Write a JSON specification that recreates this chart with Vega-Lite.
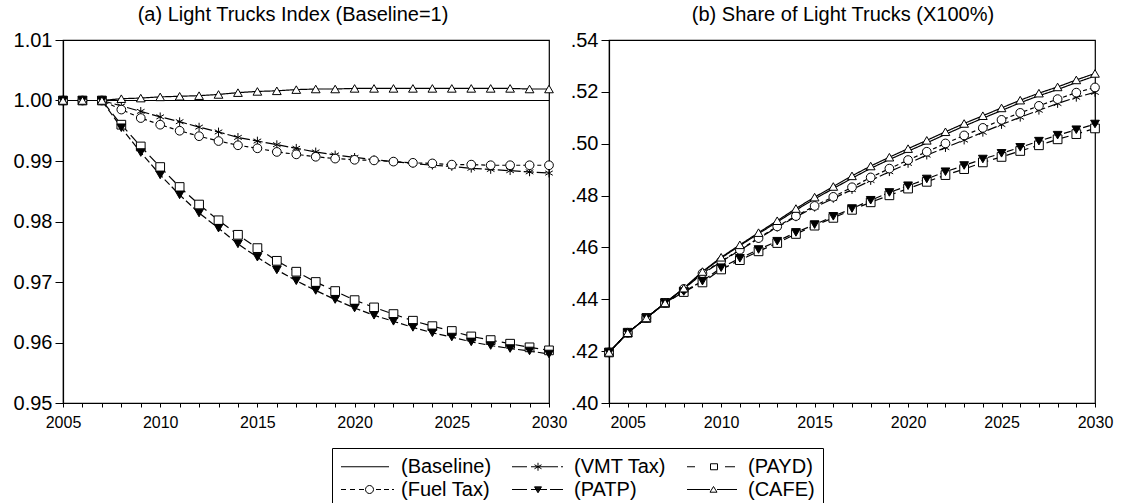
{
  "$schema": "https://vega.github.io/schema/vega-lite/v6.json",
  "background": "white",
  "padding": {"left": 12, "top": 4, "right": 0, "bottom": 0},
  "datasets": {
    "left": [
      {"year": 2005, "series": "Baseline", "value": 1}, {"year": 2005, "series": "VMT Tax", "value": 1}, {"year": 2005, "series": "PAYD", "value": 1}, {"year": 2005, "series": "Fuel Tax", "value": 1}, {"year": 2005, "series": "PATP", "value": 1}, {"year": 2005, "series": "CAFE", "value": 1},
      {"year": 2006, "series": "Baseline", "value": 1}, {"year": 2006, "series": "VMT Tax", "value": 1}, {"year": 2006, "series": "PAYD", "value": 1}, {"year": 2006, "series": "Fuel Tax", "value": 1}, {"year": 2006, "series": "PATP", "value": 1}, {"year": 2006, "series": "CAFE", "value": 1},
      {"year": 2007, "series": "Baseline", "value": 1}, {"year": 2007, "series": "VMT Tax", "value": 1}, {"year": 2007, "series": "PAYD", "value": 1}, {"year": 2007, "series": "Fuel Tax", "value": 1}, {"year": 2007, "series": "PATP", "value": 1}, {"year": 2007, "series": "CAFE", "value": 1},
      {"year": 2008, "series": "Baseline", "value": 1}, {"year": 2008, "series": "VMT Tax", "value": 0.9991}, {"year": 2008, "series": "PAYD", "value": 0.9960}, {"year": 2008, "series": "Fuel Tax", "value": 0.9985}, {"year": 2008, "series": "PATP", "value": 0.9955}, {"year": 2008, "series": "CAFE", "value": 1.0003},
      {"year": 2009, "series": "Baseline", "value": 1}, {"year": 2009, "series": "VMT Tax", "value": 0.9982}, {"year": 2009, "series": "PAYD", "value": 0.9924}, {"year": 2009, "series": "Fuel Tax", "value": 0.9971}, {"year": 2009, "series": "PATP", "value": 0.9914}, {"year": 2009, "series": "CAFE", "value": 1.0004},
      {"year": 2010, "series": "Baseline", "value": 1}, {"year": 2010, "series": "VMT Tax", "value": 0.9973}, {"year": 2010, "series": "PAYD", "value": 0.9890}, {"year": 2010, "series": "Fuel Tax", "value": 0.9960}, {"year": 2010, "series": "PATP", "value": 0.9877}, {"year": 2010, "series": "CAFE", "value": 1.0006},
      {"year": 2011, "series": "Baseline", "value": 1}, {"year": 2011, "series": "VMT Tax", "value": 0.9965}, {"year": 2011, "series": "PAYD", "value": 0.9857}, {"year": 2011, "series": "Fuel Tax", "value": 0.9950}, {"year": 2011, "series": "PATP", "value": 0.9844}, {"year": 2011, "series": "CAFE", "value": 1.0007},
      {"year": 2012, "series": "Baseline", "value": 1}, {"year": 2012, "series": "VMT Tax", "value": 0.9956}, {"year": 2012, "series": "PAYD", "value": 0.9828}, {"year": 2012, "series": "Fuel Tax", "value": 0.9941}, {"year": 2012, "series": "PATP", "value": 0.9814}, {"year": 2012, "series": "CAFE", "value": 1.0008},
      {"year": 2013, "series": "Baseline", "value": 1}, {"year": 2013, "series": "VMT Tax", "value": 0.9948}, {"year": 2013, "series": "PAYD", "value": 0.9802}, {"year": 2013, "series": "Fuel Tax", "value": 0.9933}, {"year": 2013, "series": "PATP", "value": 0.9789}, {"year": 2013, "series": "CAFE", "value": 1.0010},
      {"year": 2014, "series": "Baseline", "value": 1}, {"year": 2014, "series": "VMT Tax", "value": 0.9939}, {"year": 2014, "series": "PAYD", "value": 0.9778}, {"year": 2014, "series": "Fuel Tax", "value": 0.9926}, {"year": 2014, "series": "PATP", "value": 0.9763}, {"year": 2014, "series": "CAFE", "value": 1.0013},
      {"year": 2015, "series": "Baseline", "value": 1}, {"year": 2015, "series": "VMT Tax", "value": 0.9933}, {"year": 2015, "series": "PAYD", "value": 0.9756}, {"year": 2015, "series": "Fuel Tax", "value": 0.9921}, {"year": 2015, "series": "PATP", "value": 0.9741}, {"year": 2015, "series": "CAFE", "value": 1.0015},
      {"year": 2016, "series": "Baseline", "value": 1}, {"year": 2016, "series": "VMT Tax", "value": 0.9927}, {"year": 2016, "series": "PAYD", "value": 0.9735}, {"year": 2016, "series": "Fuel Tax", "value": 0.9915}, {"year": 2016, "series": "PATP", "value": 0.9720}, {"year": 2016, "series": "CAFE", "value": 1.0016},
      {"year": 2017, "series": "Baseline", "value": 1}, {"year": 2017, "series": "VMT Tax", "value": 0.9921}, {"year": 2017, "series": "PAYD", "value": 0.9717}, {"year": 2017, "series": "Fuel Tax", "value": 0.9911}, {"year": 2017, "series": "PATP", "value": 0.9702}, {"year": 2017, "series": "CAFE", "value": 1.0018},
      {"year": 2018, "series": "Baseline", "value": 1}, {"year": 2018, "series": "VMT Tax", "value": 0.9915}, {"year": 2018, "series": "PAYD", "value": 0.9700}, {"year": 2018, "series": "Fuel Tax", "value": 0.9907}, {"year": 2018, "series": "PATP", "value": 0.9686}, {"year": 2018, "series": "CAFE", "value": 1.0019},
      {"year": 2019, "series": "Baseline", "value": 1}, {"year": 2019, "series": "VMT Tax", "value": 0.9910}, {"year": 2019, "series": "PAYD", "value": 0.9685}, {"year": 2019, "series": "Fuel Tax", "value": 0.9904}, {"year": 2019, "series": "PATP", "value": 0.9671}, {"year": 2019, "series": "CAFE", "value": 1.0019},
      {"year": 2020, "series": "Baseline", "value": 1}, {"year": 2020, "series": "VMT Tax", "value": 0.9906}, {"year": 2020, "series": "PAYD", "value": 0.9670}, {"year": 2020, "series": "Fuel Tax", "value": 0.9902}, {"year": 2020, "series": "PATP", "value": 0.9657}, {"year": 2020, "series": "CAFE", "value": 1.0020},
      {"year": 2021, "series": "Baseline", "value": 1}, {"year": 2021, "series": "VMT Tax", "value": 0.9902}, {"year": 2021, "series": "PAYD", "value": 0.9658}, {"year": 2021, "series": "Fuel Tax", "value": 0.9901}, {"year": 2021, "series": "PATP", "value": 0.9645}, {"year": 2021, "series": "CAFE", "value": 1.0020},
      {"year": 2022, "series": "Baseline", "value": 1}, {"year": 2022, "series": "VMT Tax", "value": 0.9899}, {"year": 2022, "series": "PAYD", "value": 0.9647}, {"year": 2022, "series": "Fuel Tax", "value": 0.9899}, {"year": 2022, "series": "PATP", "value": 0.9635}, {"year": 2022, "series": "CAFE", "value": 1.0020},
      {"year": 2023, "series": "Baseline", "value": 1}, {"year": 2023, "series": "VMT Tax", "value": 0.9896}, {"year": 2023, "series": "PAYD", "value": 0.9636}, {"year": 2023, "series": "Fuel Tax", "value": 0.9897}, {"year": 2023, "series": "PATP", "value": 0.9625}, {"year": 2023, "series": "CAFE", "value": 1.0020},
      {"year": 2024, "series": "Baseline", "value": 1}, {"year": 2024, "series": "VMT Tax", "value": 0.9893}, {"year": 2024, "series": "PAYD", "value": 0.9627}, {"year": 2024, "series": "Fuel Tax", "value": 0.9896}, {"year": 2024, "series": "PATP", "value": 0.9616}, {"year": 2024, "series": "CAFE", "value": 1.0020},
      {"year": 2025, "series": "Baseline", "value": 1}, {"year": 2025, "series": "VMT Tax", "value": 0.9891}, {"year": 2025, "series": "PAYD", "value": 0.9619}, {"year": 2025, "series": "Fuel Tax", "value": 0.9894}, {"year": 2025, "series": "PATP", "value": 0.9609}, {"year": 2025, "series": "CAFE", "value": 1.0020},
      {"year": 2026, "series": "Baseline", "value": 1}, {"year": 2026, "series": "VMT Tax", "value": 0.9888}, {"year": 2026, "series": "PAYD", "value": 0.9610}, {"year": 2026, "series": "Fuel Tax", "value": 0.9894}, {"year": 2026, "series": "PATP", "value": 0.9601}, {"year": 2026, "series": "CAFE", "value": 1.0020},
      {"year": 2027, "series": "Baseline", "value": 1}, {"year": 2027, "series": "VMT Tax", "value": 0.9886}, {"year": 2027, "series": "PAYD", "value": 0.9604}, {"year": 2027, "series": "Fuel Tax", "value": 0.9893}, {"year": 2027, "series": "PATP", "value": 0.9595}, {"year": 2027, "series": "CAFE", "value": 1.0020},
      {"year": 2028, "series": "Baseline", "value": 1}, {"year": 2028, "series": "VMT Tax", "value": 0.9884}, {"year": 2028, "series": "PAYD", "value": 0.9598}, {"year": 2028, "series": "Fuel Tax", "value": 0.9893}, {"year": 2028, "series": "PATP", "value": 0.9590}, {"year": 2028, "series": "CAFE", "value": 1.0020},
      {"year": 2029, "series": "Baseline", "value": 1}, {"year": 2029, "series": "VMT Tax", "value": 0.9882}, {"year": 2029, "series": "PAYD", "value": 0.9592}, {"year": 2029, "series": "Fuel Tax", "value": 0.9893}, {"year": 2029, "series": "PATP", "value": 0.9586}, {"year": 2029, "series": "CAFE", "value": 1.0019},
      {"year": 2030, "series": "Baseline", "value": 1}, {"year": 2030, "series": "VMT Tax", "value": 0.9880}, {"year": 2030, "series": "PAYD", "value": 0.9587}, {"year": 2030, "series": "Fuel Tax", "value": 0.9893}, {"year": 2030, "series": "PATP", "value": 0.9581}, {"year": 2030, "series": "CAFE", "value": 1.0019}
    ],
    "right": [
      {"year": 2004, "series": "Baseline", "value": 0.4195}, {"year": 2004, "series": "VMT Tax", "value": 0.4195}, {"year": 2004, "series": "PAYD", "value": 0.4195}, {"year": 2004, "series": "Fuel Tax", "value": 0.4195}, {"year": 2004, "series": "PATP", "value": 0.4195}, {"year": 2004, "series": "CAFE", "value": 0.4195},
      {"year": 2005, "series": "Baseline", "value": 0.4271}, {"year": 2005, "series": "VMT Tax", "value": 0.4271}, {"year": 2005, "series": "PAYD", "value": 0.4271}, {"year": 2005, "series": "Fuel Tax", "value": 0.4271}, {"year": 2005, "series": "PATP", "value": 0.4271}, {"year": 2005, "series": "CAFE", "value": 0.4271},
      {"year": 2006, "series": "Baseline", "value": 0.4328}, {"year": 2006, "series": "VMT Tax", "value": 0.4328}, {"year": 2006, "series": "PAYD", "value": 0.4328}, {"year": 2006, "series": "Fuel Tax", "value": 0.4328}, {"year": 2006, "series": "PATP", "value": 0.4328}, {"year": 2006, "series": "CAFE", "value": 0.4328},
      {"year": 2007, "series": "Baseline", "value": 0.4386}, {"year": 2007, "series": "VMT Tax", "value": 0.4386}, {"year": 2007, "series": "PAYD", "value": 0.4386}, {"year": 2007, "series": "Fuel Tax", "value": 0.4386}, {"year": 2007, "series": "PATP", "value": 0.4386}, {"year": 2007, "series": "CAFE", "value": 0.4386},
      {"year": 2008, "series": "Baseline", "value": 0.4441}, {"year": 2008, "series": "VMT Tax", "value": 0.4440}, {"year": 2008, "series": "PAYD", "value": 0.4428}, {"year": 2008, "series": "Fuel Tax", "value": 0.4440}, {"year": 2008, "series": "PATP", "value": 0.4430}, {"year": 2008, "series": "CAFE", "value": 0.4443},
      {"year": 2009, "series": "Baseline", "value": 0.4505}, {"year": 2009, "series": "VMT Tax", "value": 0.4498}, {"year": 2009, "series": "PAYD", "value": 0.4465}, {"year": 2009, "series": "Fuel Tax", "value": 0.4500}, {"year": 2009, "series": "PATP", "value": 0.4470}, {"year": 2009, "series": "CAFE", "value": 0.4507},
      {"year": 2010, "series": "Baseline", "value": 0.4559}, {"year": 2010, "series": "VMT Tax", "value": 0.4545}, {"year": 2010, "series": "PAYD", "value": 0.4515}, {"year": 2010, "series": "Fuel Tax", "value": 0.4547}, {"year": 2010, "series": "PATP", "value": 0.4522}, {"year": 2010, "series": "CAFE", "value": 0.4562},
      {"year": 2011, "series": "Baseline", "value": 0.4607}, {"year": 2011, "series": "VMT Tax", "value": 0.4589}, {"year": 2011, "series": "PAYD", "value": 0.4551}, {"year": 2011, "series": "Fuel Tax", "value": 0.4591}, {"year": 2011, "series": "PATP", "value": 0.4558}, {"year": 2011, "series": "CAFE", "value": 0.4610},
      {"year": 2012, "series": "Baseline", "value": 0.4653}, {"year": 2012, "series": "VMT Tax", "value": 0.4634}, {"year": 2012, "series": "PAYD", "value": 0.4585}, {"year": 2012, "series": "Fuel Tax", "value": 0.4636}, {"year": 2012, "series": "PATP", "value": 0.4592}, {"year": 2012, "series": "CAFE", "value": 0.4657},
      {"year": 2013, "series": "Baseline", "value": 0.4698}, {"year": 2013, "series": "VMT Tax", "value": 0.4678}, {"year": 2013, "series": "PAYD", "value": 0.4617}, {"year": 2013, "series": "Fuel Tax", "value": 0.4681}, {"year": 2013, "series": "PATP", "value": 0.4624}, {"year": 2013, "series": "CAFE", "value": 0.4703},
      {"year": 2014, "series": "Baseline", "value": 0.4744}, {"year": 2014, "series": "VMT Tax", "value": 0.4718}, {"year": 2014, "series": "PAYD", "value": 0.4652}, {"year": 2014, "series": "Fuel Tax", "value": 0.4721}, {"year": 2014, "series": "PATP", "value": 0.4658}, {"year": 2014, "series": "CAFE", "value": 0.4750},
      {"year": 2015, "series": "Baseline", "value": 0.4787}, {"year": 2015, "series": "VMT Tax", "value": 0.4755}, {"year": 2015, "series": "PAYD", "value": 0.4684}, {"year": 2015, "series": "Fuel Tax", "value": 0.4760}, {"year": 2015, "series": "PATP", "value": 0.4688}, {"year": 2015, "series": "CAFE", "value": 0.4794},
      {"year": 2016, "series": "Baseline", "value": 0.4827}, {"year": 2016, "series": "VMT Tax", "value": 0.4789}, {"year": 2016, "series": "PAYD", "value": 0.4714}, {"year": 2016, "series": "Fuel Tax", "value": 0.4795}, {"year": 2016, "series": "PATP", "value": 0.4720}, {"year": 2016, "series": "CAFE", "value": 0.4835},
      {"year": 2017, "series": "Baseline", "value": 0.4867}, {"year": 2017, "series": "VMT Tax", "value": 0.4823}, {"year": 2017, "series": "PAYD", "value": 0.4745}, {"year": 2017, "series": "Fuel Tax", "value": 0.4832}, {"year": 2017, "series": "PATP", "value": 0.4750}, {"year": 2017, "series": "CAFE", "value": 0.4876},
      {"year": 2018, "series": "Baseline", "value": 0.4905}, {"year": 2018, "series": "VMT Tax", "value": 0.4858}, {"year": 2018, "series": "PAYD", "value": 0.4774}, {"year": 2018, "series": "Fuel Tax", "value": 0.4870}, {"year": 2018, "series": "PATP", "value": 0.4782}, {"year": 2018, "series": "CAFE", "value": 0.4914},
      {"year": 2019, "series": "Baseline", "value": 0.4939}, {"year": 2019, "series": "VMT Tax", "value": 0.4892}, {"year": 2019, "series": "PAYD", "value": 0.4801}, {"year": 2019, "series": "Fuel Tax", "value": 0.4904}, {"year": 2019, "series": "PATP", "value": 0.4812}, {"year": 2019, "series": "CAFE", "value": 0.4948},
      {"year": 2020, "series": "Baseline", "value": 0.4971}, {"year": 2020, "series": "VMT Tax", "value": 0.4924}, {"year": 2020, "series": "PAYD", "value": 0.4827}, {"year": 2020, "series": "Fuel Tax", "value": 0.4937}, {"year": 2020, "series": "PATP", "value": 0.4838}, {"year": 2020, "series": "CAFE", "value": 0.4981},
      {"year": 2021, "series": "Baseline", "value": 0.5003}, {"year": 2021, "series": "VMT Tax", "value": 0.4956}, {"year": 2021, "series": "PAYD", "value": 0.4853}, {"year": 2021, "series": "Fuel Tax", "value": 0.4969}, {"year": 2021, "series": "PATP", "value": 0.4864}, {"year": 2021, "series": "CAFE", "value": 0.5013},
      {"year": 2022, "series": "Baseline", "value": 0.5036}, {"year": 2022, "series": "VMT Tax", "value": 0.4985}, {"year": 2022, "series": "PAYD", "value": 0.4879}, {"year": 2022, "series": "Fuel Tax", "value": 0.5001}, {"year": 2022, "series": "PATP", "value": 0.4892}, {"year": 2022, "series": "CAFE", "value": 0.5046},
      {"year": 2023, "series": "Baseline", "value": 0.5068}, {"year": 2023, "series": "VMT Tax", "value": 0.5014}, {"year": 2023, "series": "PAYD", "value": 0.4902}, {"year": 2023, "series": "Fuel Tax", "value": 0.5032}, {"year": 2023, "series": "PATP", "value": 0.4916}, {"year": 2023, "series": "CAFE", "value": 0.5078},
      {"year": 2024, "series": "Baseline", "value": 0.5098}, {"year": 2024, "series": "VMT Tax", "value": 0.5044}, {"year": 2024, "series": "PAYD", "value": 0.4928}, {"year": 2024, "series": "Fuel Tax", "value": 0.5061}, {"year": 2024, "series": "PATP", "value": 0.4941}, {"year": 2024, "series": "CAFE", "value": 0.5108},
      {"year": 2025, "series": "Baseline", "value": 0.5128}, {"year": 2025, "series": "VMT Tax", "value": 0.5074}, {"year": 2025, "series": "PAYD", "value": 0.4949}, {"year": 2025, "series": "Fuel Tax", "value": 0.5092}, {"year": 2025, "series": "PATP", "value": 0.4963}, {"year": 2025, "series": "CAFE", "value": 0.5138},
      {"year": 2026, "series": "Baseline", "value": 0.5158}, {"year": 2026, "series": "VMT Tax", "value": 0.5102}, {"year": 2026, "series": "PAYD", "value": 0.4972}, {"year": 2026, "series": "Fuel Tax", "value": 0.5119}, {"year": 2026, "series": "PATP", "value": 0.4986}, {"year": 2026, "series": "CAFE", "value": 0.5168},
      {"year": 2027, "series": "Baseline", "value": 0.5185}, {"year": 2027, "series": "VMT Tax", "value": 0.5129}, {"year": 2027, "series": "PAYD", "value": 0.4994}, {"year": 2027, "series": "Fuel Tax", "value": 0.5146}, {"year": 2027, "series": "PATP", "value": 0.5010}, {"year": 2027, "series": "CAFE", "value": 0.5195},
      {"year": 2028, "series": "Baseline", "value": 0.5209}, {"year": 2028, "series": "VMT Tax", "value": 0.5155}, {"year": 2028, "series": "PAYD", "value": 0.5017}, {"year": 2028, "series": "Fuel Tax", "value": 0.5172}, {"year": 2028, "series": "PATP", "value": 0.5033}, {"year": 2028, "series": "CAFE", "value": 0.5219},
      {"year": 2029, "series": "Baseline", "value": 0.5236}, {"year": 2029, "series": "VMT Tax", "value": 0.5179}, {"year": 2029, "series": "PAYD", "value": 0.5037}, {"year": 2029, "series": "Fuel Tax", "value": 0.5197}, {"year": 2029, "series": "PATP", "value": 0.5054}, {"year": 2029, "series": "CAFE", "value": 0.5246},
      {"year": 2030, "series": "Baseline", "value": 0.5261}, {"year": 2030, "series": "VMT Tax", "value": 0.5198}, {"year": 2030, "series": "PAYD", "value": 0.5059}, {"year": 2030, "series": "Fuel Tax", "value": 0.5217}, {"year": 2030, "series": "PATP", "value": 0.5076}, {"year": 2030, "series": "CAFE", "value": 0.5271}
    ]
  },
  "spacing": 60,
  "bounds": "flush",
  "resolve": {"scale": {"shape": "independent", "fill": "independent", "strokeDash": "independent"}, "legend": {"shape": "independent"}},
  "hconcat": [
    {
      "width": 486,
      "height": 363,
      "title": {"text": "(a) Light Trucks Index (Baseline=1)", "anchor": "middle", "frame": "group", "dx": -13, "offset": 5},
      "data": {"name": "left"},
      "encoding": {
        "x": {"field": "year", "type": "quantitative", "scale": {"domain": [2005, 2030], "nice": false, "zero": false},
          "axis": {"title": null, "values": [2005, 2006, 2007, 2008, 2009, 2010, 2011, 2012, 2013, 2014, 2015, 2016, 2017, 2018, 2019, 2020, 2021, 2022, 2023, 2024, 2025, 2026, 2027, 2028, 2029, 2030], "format": "d", "labelExpr": "datum.value % 5 === 0 ? datum.label : ''", "labelFlush": false, "labelOverlap": false, "tickSize": 4, "labelPadding": 7, "labelFontSize": 16, "grid": false}},
        "y": {"field": "value", "type": "quantitative", "scale": {"domain": [0.95, 1.01], "nice": false, "zero": false},
          "axis": {"title": null, "values": [0.95, 0.96, 0.97, 0.98, 0.99, 1.0, 1.01], "format": ".2f", "labelOverlap": false, "tickSize": 8, "labelPadding": 3, "labelFontSize": 20, "grid": false}}
      },
      "layer": [
        {
          "mark": {"type": "line", "color": "black", "strokeWidth": 1.2},
          "encoding": {
            "strokeDash": {"field": "series", "type": "nominal", "legend": null,
              "scale": {"domain": ["Baseline", "VMT Tax", "PAYD", "Fuel Tax", "PATP", "CAFE"], "range": [[1, 0], [10, 3], [9, 5], [4, 3], [7, 3], [1, 0]]}}
          }
        },
        {
          "transform": [{"filter": "datum.series !== 'Baseline'"}],
          "mark": {"type": "point", "filled": true, "stroke": "black", "strokeWidth": 1, "size": 76, "opacity": 1},
          "encoding": {
            "shape": {"field": "series", "type": "nominal", "legend": null,
              "scale": {"domain": ["VMT Tax", "PAYD", "Fuel Tax", "PATP", "CAFE"], "range": ["M0,-1V1M-0.87,-0.5L0.87,0.5M-0.87,0.5L0.87,-0.5", "square", "circle", "triangle-down", "triangle-up"]}},
            "fill": {"field": "series", "type": "nominal", "legend": null,
              "scale": {"domain": ["VMT Tax", "PAYD", "Fuel Tax", "PATP", "CAFE"], "range": ["white", "white", "white", "black", "white"]}}
          }
        },
        {
          "mark": {"type": "point", "filled": false, "color": "black", "strokeWidth": 1, "opacity": 0},
          "encoding": {
            "shape": {"field": "series", "type": "nominal",
              "scale": {"domain": ["Baseline", "VMT Tax", "PAYD", "Fuel Tax", "PATP", "CAFE"],
                "range": [
                  "M-0.95,0H3.85",
                  "M-1.15,0H0.35M0.75,0H3.45M3.75,0H3.95M1.45,-0.4V0.4M1.1,-0.2L1.8,0.2M1.1,0.2L1.8,-0.2",
                  "M-1.05,0H-0.25M2.75,0H3.75M1.3,-0.3H2V0.3H1.3Z",
                  "M-0.95,0H-0.45M-0.05,0H0.45M0.85,0H1.35M2.55,0H3.05M3.35,0H3.85M4.15,0H4.35M1.5,0A0.4,0.4 0 1,1 2.3,0A0.4,0.4 0 1,1 1.5,0Z",
                  "M-1.15,0H0.35M0.75,0H2.35M2.65,0H3.95M1.1,-0.27L1.8,-0.27L1.45,0.33ZM1.147,-0.19H1.753M1.193,-0.11H1.707M1.24,-0.03H1.66M1.287,0.05H1.613M1.333,0.13H1.567M1.38,0.21H1.52",
                  "M-1.05,0H1.25M1.95,0H3.95M1.25,0.27L1.95,0.27L1.6,-0.3Z"
                ]},
              "legend": {
                "title": null,
                "orient": "none", "legendX": 269, "legendY": 408,
                "columns": 3, "direction": "horizontal",
                "strokeColor": "black", "padding": 8,
                "labelFontSize": 20, "labelColor": "black", "labelLimit": 300,
                "labelExpr": "'(' + datum.label + ')'",
                "symbolSize": 400, "symbolStrokeWidth": 1, "symbolStrokeColor": "black", "symbolOpacity": 1,
                "labelOffset": 40, "columnPadding": 18, "rowPadding": 2, "symbolOffset": 0
              }
            }
          }
        }
      ],
      "resolve": {"scale": {"shape": "independent", "fill": "independent"}}
    },
    {
      "width": 486,
      "height": 363,
      "title": {"text": "(b) Share of Light Trucks (X100%)", "anchor": "middle", "frame": "group", "dx": -9, "offset": 5},
      "data": {"name": "right"},
      "encoding": {
        "x": {"field": "year", "type": "quantitative", "scale": {"domain": [2004, 2030], "nice": false, "zero": false},
          "axis": {"title": null, "values": [2004, 2005, 2006, 2007, 2008, 2009, 2010, 2011, 2012, 2013, 2014, 2015, 2016, 2017, 2018, 2019, 2020, 2021, 2022, 2023, 2024, 2025, 2026, 2027, 2028, 2029, 2030], "format": "d", "labelExpr": "datum.value % 5 === 0 ? datum.label : ''", "labelFlush": false, "labelOverlap": false, "tickSize": 4, "labelPadding": 7, "labelFontSize": 16, "grid": false}},
        "y": {"field": "value", "type": "quantitative", "scale": {"domain": [0.40, 0.54], "nice": false, "zero": false},
          "axis": {"title": null, "values": [0.40, 0.42, 0.44, 0.46, 0.48, 0.50, 0.52, 0.54], "labelExpr": "substring(format(datum.value, '.2f'), 1)", "labelOverlap": false, "tickSize": 8, "labelPadding": 3, "labelFontSize": 20, "grid": false}}
      },
      "layer": [
        {
          "mark": {"type": "line", "color": "black", "strokeWidth": 1.2},
          "encoding": {
            "strokeDash": {"field": "series", "type": "nominal", "legend": null,
              "scale": {"domain": ["Baseline", "VMT Tax", "PAYD", "Fuel Tax", "PATP", "CAFE"], "range": [[1, 0], [10, 3], [9, 5], [4, 3], [7, 3], [1, 0]]}}
          }
        },
        {
          "transform": [{"filter": "datum.series !== 'Baseline'"}],
          "mark": {"type": "point", "filled": true, "stroke": "black", "strokeWidth": 1, "size": 76, "opacity": 1},
          "encoding": {
            "shape": {"field": "series", "type": "nominal", "legend": null,
              "scale": {"domain": ["VMT Tax", "PAYD", "Fuel Tax", "PATP", "CAFE"], "range": ["M0,-1V1M-0.87,-0.5L0.87,0.5M-0.87,0.5L0.87,-0.5", "square", "circle", "triangle-down", "triangle-up"]}},
            "fill": {"field": "series", "type": "nominal", "legend": null,
              "scale": {"domain": ["VMT Tax", "PAYD", "Fuel Tax", "PATP", "CAFE"], "range": ["white", "white", "white", "black", "white"]}}
          }
        }
      ]
    }
  ],
  "config": {
    "font": "Liberation Sans",
    "view": {"stroke": "black", "strokeWidth": 1.2},
    "axis": {"domainColor": "black", "domainWidth": 1.2, "tickColor": "black", "tickWidth": 1, "labelColor": "black", "labelFont": "Liberation Sans", "labelOverlap": false},
    "title": {"font": "Liberation Sans", "fontSize": 20, "fontWeight": "normal", "color": "black"},
    "legend": {"labelFont": "Liberation Sans"}
  }
}
